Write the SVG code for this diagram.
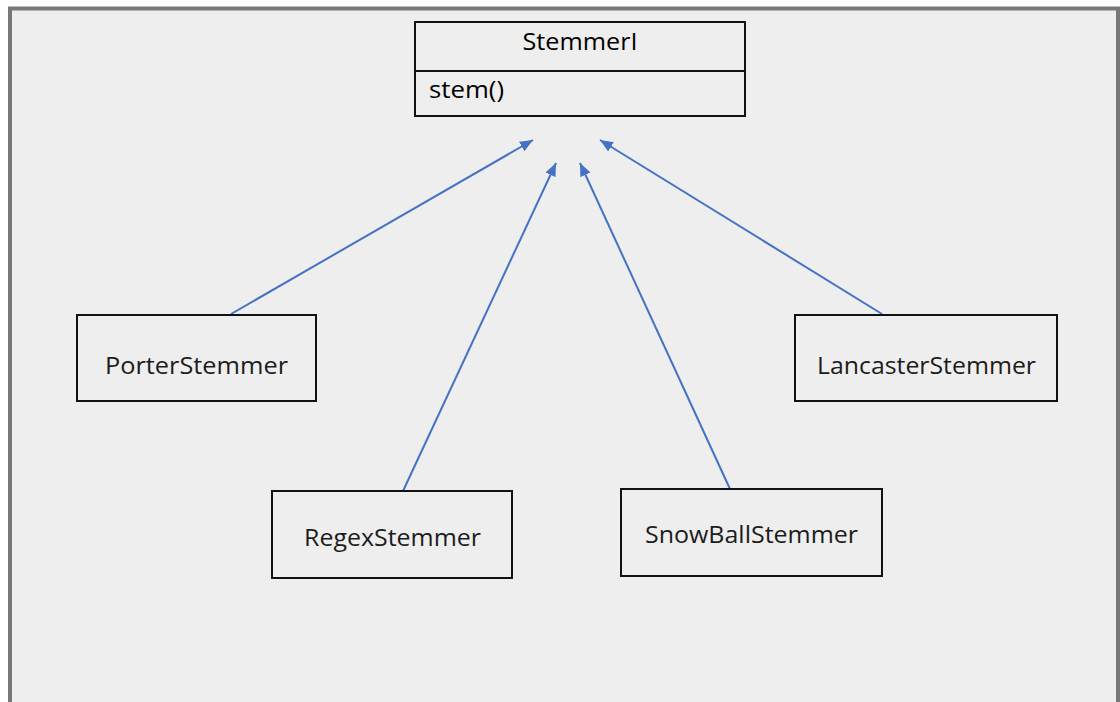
<svg xmlns="http://www.w3.org/2000/svg" width="1120" height="702" viewBox="0 0 1120 702">
  <style>
    .box { fill: none; stroke: #111; stroke-width: 2; }
    .lbl { font-family: "Open Sans", "Liberation Sans", sans-serif; font-size: 24px; fill: #1c1c1c; text-anchor: middle; }
    .cls { font-family: "Open Sans", "Liberation Sans", sans-serif; font-size: 23px; fill: #000; }
    .edge { stroke: #4472C4; stroke-width: 2; fill: none; marker-end: url(#tri); }
  </style>
  <defs>
    <marker id="tri" viewBox="0 0 13 11" refX="13" refY="5.5" markerWidth="13" markerHeight="11" markerUnits="userSpaceOnUse" orient="auto">
      <path d="M0,0 L13,5.5 L0,11 Z" fill="#4472C4"/>
    </marker>
  </defs>

  <!-- canvas -->
  <rect x="0" y="0" width="1120" height="702" fill="#ffffff"/>
  <rect x="10" y="8.5" width="1108" height="700" fill="#eeeeee" stroke="#7a7878" stroke-width="4"/>

  <!-- inheritance connectors -->
  <g id="connectors">
    <line class="edge" x1="231" y1="314" x2="533" y2="140"/>
    <line class="edge" x1="403" y1="491" x2="556" y2="163"/>
    <line class="edge" x1="730" y1="489" x2="580" y2="163"/>
    <line class="edge" x1="882" y1="314" x2="600" y2="140"/>
  </g>

  <g id="StemmerI">
    <rect class="box" x="415" y="22" width="330" height="94"/>
    <line class="box" x1="415" y1="71" x2="745" y2="71"/>
    <text class="cls" x="580" y="50" text-anchor="middle" textLength="115" lengthAdjust="spacingAndGlyphs">StemmerI</text>
    <text class="cls" x="429" y="98" textLength="75" lengthAdjust="spacingAndGlyphs">stem()</text>
  </g>

  <g id="PorterStemmer">
    <rect class="box" x="77" y="315" width="239" height="86"/>
    <text class="lbl" x="196.5" y="374" textLength="183" lengthAdjust="spacingAndGlyphs">PorterStemmer</text>
  </g>

  <g id="LancasterStemmer">
    <rect class="box" x="795" y="315" width="262" height="86"/>
    <text class="lbl" x="926.5" y="374" textLength="219" lengthAdjust="spacingAndGlyphs">LancasterStemmer</text>
  </g>

  <g id="RegexStemmer">
    <rect class="box" x="272" y="491" width="240" height="87"/>
    <text class="lbl" x="392.5" y="546" textLength="177" lengthAdjust="spacingAndGlyphs">RegexStemmer</text>
  </g>

  <g id="SnowBallStemmer">
    <rect class="box" x="621" y="489" width="261" height="87"/>
    <text class="lbl" x="751.5" y="543" textLength="213" lengthAdjust="spacingAndGlyphs">SnowBallStemmer</text>
  </g>
</svg>
